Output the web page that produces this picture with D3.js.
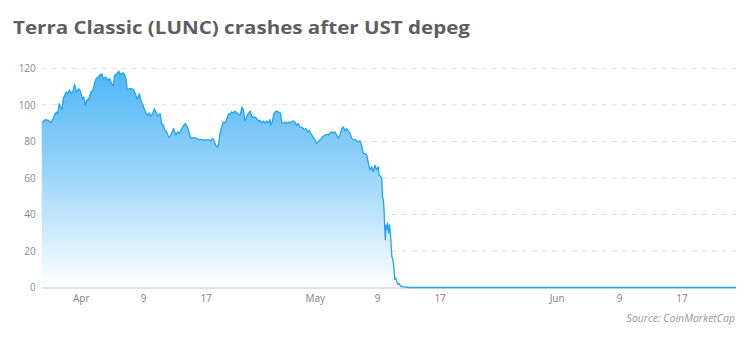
<!DOCTYPE html>
<html><head><meta charset="utf-8">
<script src="https://cdn.jsdelivr.net/npm/d3@7"></script>
<style>body{margin:0;background:#fff}svg{display:block}</style>
</head><body>
<svg id="chart" width="750" height="338"></svg>
<script>
// ---- data (LUNC price, USD) ----
const dates = ["03-27 00","03-27 03","03-27 10","03-27 20","03-28 04","03-28 11","03-28 17","03-28 22","03-29 01","03-29 05","03-29 10","03-29 14","03-29 18","03-30 03","03-30 08","03-30 13","03-30 18","03-30 23","03-31 05","03-31 11","03-31 18","03-31 22","04-01 05","04-01 09","04-01 14","04-01 18","04-02 01","04-02 07","04-02 13","04-02 18","04-02 23","04-03 06","04-03 12","04-03 17","04-03 21","04-04 05","04-04 11","04-04 17","04-04 23","04-05 04","04-05 08","04-05 15","04-05 21","04-06 01","04-06 06","04-06 13","04-06 19","04-06 23","04-07 05","04-07 12","04-07 18","04-07 23","04-08 06","04-08 12","04-08 17","04-08 22","04-09 03","04-09 09","04-09 14","04-09 19","04-10 00","04-10 05","04-10 10","04-10 15","04-10 21","04-11 04","04-11 09","04-11 14","04-11 19","04-12 00","04-12 07","04-12 11","04-12 17","04-12 22","04-13 04","04-13 10","04-13 15","04-13 20","04-14 02","04-14 09","04-14 16","04-14 22","04-15 03","04-15 10","04-15 21","04-16 04","04-16 12","04-16 22","04-17 08","04-17 16","04-17 22","04-18 03","04-18 08","04-18 12","04-18 16","04-18 20","04-19 02","04-19 06","04-19 12","04-19 17","04-19 22","04-20 03","04-20 08","04-20 13","04-20 18","04-21 00","04-21 05","04-21 10","04-21 16","04-21 20","04-22 01","04-22 06","04-22 11","04-22 17","04-22 22","04-23 03","04-23 08","04-23 13","04-23 18","04-23 23","04-24 05","04-24 10","04-24 15","04-24 20","04-25 01","04-25 06","04-25 09","04-25 13","04-25 18","04-26 01","04-26 08","04-26 14","04-26 19","04-27 01","04-27 06","04-27 11","04-27 17","04-27 23","04-28 04","04-28 11","04-28 16","04-28 21","04-29 02","04-29 09","04-29 15","04-29 21","04-30 02","04-30 07","04-30 12","04-30 18","05-01 01","05-01 05","05-01 10","05-01 16","05-01 21","05-02 02","05-02 07","05-02 13","05-02 18","05-02 23","05-03 04","05-03 09","05-03 14","05-03 19","05-04 00","05-04 06","05-04 11","05-04 16","05-04 21","05-05 02","05-05 07","05-05 12","05-05 18","05-05 22","05-06 04","05-06 09","05-06 14","05-06 19","05-07 00","05-07 05","05-07 10","05-07 16","05-07 21","05-08 02","05-08 07","05-08 12","05-08 17","05-08 22","05-09 03","05-09 06","05-09 11","05-09 14","05-09 16","05-09 19","05-09 21","05-09 23","05-10 01","05-10 03","05-10 05","05-10 08","05-10 11","05-10 14","05-10 17","05-10 21","05-11 00","05-11 03","05-11 06","05-11 09","05-11 12","05-11 16","05-11 20","05-12 00","05-12 08","05-13 00","05-20 00","05-27 00","06-03 00","06-10 00","06-17 00","06-24 00"];
const prices = [90.3,90.6,91.9,91.5,90.3,92.5,95.2,96.1,94.7,100.6,98.8,97.5,103.4,107,106.1,108.3,106.4,107,111.2,107,108.8,107.9,103.4,104.3,99.7,102.5,103.4,107,107.9,111.6,114.3,115.2,116.6,117,114.3,115.2,113.4,114.3,111.6,110.6,116.1,117,118.4,116.6,117.3,117.3,114.3,108.3,108.8,108.8,108.5,106.5,103,106.1,102.5,100.3,97.9,95.2,94.3,95.5,93.7,95.2,97.9,96.1,93.7,95.2,89.8,88.8,86.1,85.2,82.1,82.5,85.2,87,83.4,85.2,84.3,86.1,87.9,89.8,87.9,84.3,81.6,82.1,81.6,81,81,80.7,81,80.3,81.6,79.7,77.4,77,78.5,84.3,88,90.5,90.3,92,95,94.8,96.1,95.5,96.6,95.5,94.8,94.3,98.8,97.4,91.2,93.4,95.2,96.6,93.7,93,93.4,92.5,91.2,91.6,90.1,91.2,89.8,91.2,90.1,91.9,88.8,90.6,95.2,96.6,96.1,95.5,90.1,89.8,90.6,89.8,90.6,90.1,91.2,90.6,88.8,89.8,87.9,87.6,86.5,87,85.2,86.1,84.3,82.5,80.7,78.9,79.7,80.7,81.6,82.8,83.4,83.9,83.4,84.6,85.2,84.6,85.2,83.4,81.6,83.9,87,87.9,85.7,87,85.7,84.6,81.6,81,81,80.3,79.7,80.3,77.9,73.4,73.4,72.5,68,64.3,66.1,63.4,67,64.3,66.1,61.6,60.7,59.8,49.8,48,42.5,33.4,26.2,34.3,31.6,35.3,29.8,34.3,28.9,17.1,15.3,11.6,4.4,5.3,3.4,1.6,2.2,0.7,0.3,0.01,0.0001,0.0001,0.0001,0.0001,0.0001,0.0001];
const yTicks = [0, 20, 40, 60, 80, 100, 120];
const xTickDates = ["04-01","04-09","04-17","05-01","05-09","05-17","06-01","06-09","06-17"];
const xTickLabels = ["Apr","9","17","May","9","17","Jun","9","17"];
const domainDates = ["03-27 00","06-24 00"];
const titleText = "Terra Classic (LUNC) crashes after UST depeg";
const sourceText = "Source: CoinMarketCap";

// ---- layout ----
const parse = d3.timeParse("%Y-%m-%d %H");
const parseDay = d3.timeParse("%Y-%m-%d");
const data = dates.map((d, i) => ({ t: parse("2022-" + d), v: prices[i] }));

const svg = d3.select("#chart");
const plotL = 41.8, plotR = 736, plotT = 68.3, plotB = 287.5;

const x = d3.scaleTime().domain(domainDates.map(d => parse("2022-" + d))).range([plotL, plotR]);
const y = d3.scaleLinear().domain([0, 120]).range([plotB, plotT]);

// gradient
const defs = svg.append("defs");
const grad = defs.append("linearGradient").attr("id", "g")
  .attr("gradientUnits", "userSpaceOnUse")
  .attr("x1", 0).attr("x2", 0).attr("y1", y(120)).attr("y2", y(0));
grad.append("stop").attr("offset", "0%").attr("stop-color", "#4db5f5");
grad.append("stop").attr("offset", "45%").attr("stop-color", "#95d3f9");
grad.append("stop").attr("offset", "100%").attr("stop-color", "#ffffff");

// title
svg.append("text").attr("x", 13).attr("y", 33.5)
  .attr("font-family", "'Open Sans', sans-serif").attr("font-weight", 700)
  .attr("font-size", 18).attr("fill", "#5e5e5e")
  .attr("textLength", 457).attr("lengthAdjust", "spacingAndGlyphs")
  .text(titleText);

// grid
svg.append("g").selectAll("line").data(yTicks.filter(v => v > 0)).join("line")
  .attr("x1", plotL).attr("x2", plotR)
  .attr("y1", d => y(d)).attr("y2", d => y(d))
  .attr("stroke", "#dedede").attr("stroke-width", 1).attr("stroke-dasharray", "5,5");

// area
svg.append("path").datum(data)
  .attr("d", d3.area().x(d => x(d.t)).y0(y(0)).y1(d => y(d.v)))
  .attr("fill", "url(#g)");

// baseline
svg.append("line").attr("x1", plotL).attr("x2", plotR).attr("y1", y(0) + 0.5).attr("y2", y(0) + 0.5)
  .attr("stroke", "#d9d9d9").attr("stroke-width", 1.5);

// line
svg.append("path").datum(data)
  .attr("d", d3.line().x(d => x(d.t)).y(d => y(d.v)))
  .attr("fill", "none").attr("stroke", "#22a4ee").attr("stroke-width", 1.3)
  .attr("stroke-linejoin", "round");

// y axis
const yAxis = svg.append("g").attr("transform", `translate(${plotL - 6},0)`)
  .call(d3.axisLeft(y).tickValues(yTicks).tickSize(0).tickPadding(0));
yAxis.select(".domain").remove();
yAxis.selectAll("text").attr("font-family", "'Open Sans', sans-serif")
  .attr("font-size", 10).attr("fill", "#8a8a8a");

// x axis
const xAxis = svg.append("g").attr("transform", `translate(0,${plotB})`)
  .call(d3.axisBottom(x).tickValues(xTickDates.map(d => parseDay("2022-" + d)))
    .tickFormat((d, i) => xTickLabels[i]).tickSize(0).tickPadding(7));
xAxis.select(".domain").remove();
xAxis.selectAll("text").attr("font-family", "'Open Sans', sans-serif")
  .attr("font-size", 10).attr("fill", "#7f7f7f");

// source
svg.append("text").attr("x", 735).attr("y", 322).attr("text-anchor", "end")
  .attr("font-family", "'Open Sans', sans-serif").attr("font-style", "italic")
  .attr("font-size", 10.5).attr("fill", "#9a9a9a").text(sourceText);
</script>
</body></html>
